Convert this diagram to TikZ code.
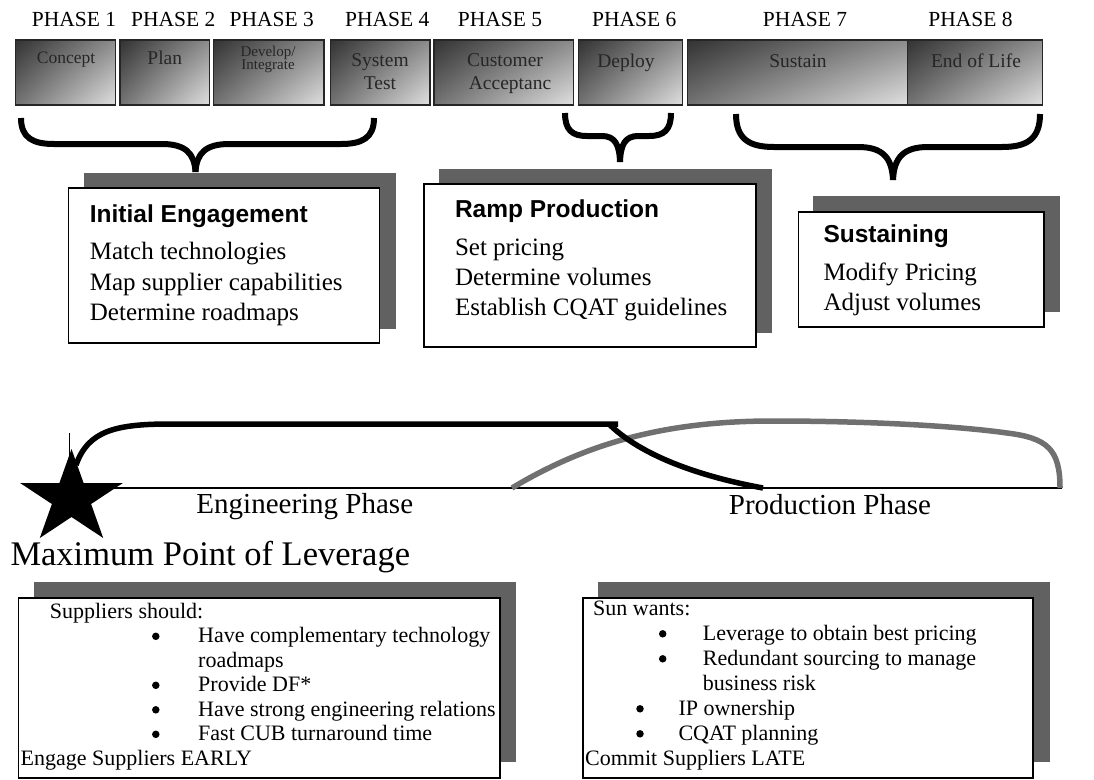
\documentclass[tikz,border=0pt]{standalone}
\usepackage{fontspec}
\setmainfont{Liberation Serif}
\newfontfamily\headfont{Liberation Sans}
\usetikzlibrary{shadings}

\tikzset{
  phasebox/.style={draw=black!85, line width=1.5pt, inner sep=0pt, minimum height=65pt,
    upper left=black!80, upper right=black!45, lower left=black!55, lower right=black!12},
  phasehead/.style={anchor=base, inner sep=0pt, font=\fontsize{21.5}{21.5}\selectfont},
  phasetext/.style={anchor=base, inner sep=0pt, text=black!85, font=\fontsize{19.5}{19.5}\selectfont},
  shadowbox/.style={fill=black!62, inner sep=0pt},
  panelbox/.style={fill=white, draw=black, line width=1.3pt, inner sep=0pt},
  paneltitle/.style={anchor=base west, inner sep=0pt, font=\headfont\bfseries\fontsize{24.5}{24.5}\selectfont},
  panelline/.style={anchor=base west, inner sep=0pt, font=\fontsize{25}{25}\selectfont},
  listline/.style={anchor=base west, inner sep=0pt, font=\fontsize{22}{22}\selectfont},
  bulletdot/.style={circle, fill=black, inner sep=0pt, minimum size=7.5pt, yshift=6.5pt},
  phasename/.style={anchor=base, inner sep=0pt, font=\fontsize{29}{29}\selectfont},
  bracestroke/.style={line width=6pt, line cap=butt, line join=round},
  engcurve/.style={line width=5.5pt, black, line cap=butt},
  prodcurve/.style={line width=5.5pt, black!56, line cap=butt},
}

\begin{document}
\begin{tikzpicture}[x=1pt,y=-1pt]
\useasboundingbox (0,0) rectangle (1094,779);

% ---- phase headings
\node[phasehead] (h1) at (74,26)    {PHASE 1};
\node[phasehead] (h2) at (173.3,26) {PHASE 2};
\node[phasehead] (h3) at (271.7,26) {PHASE 3};
\node[phasehead] (h4) at (387.3,26) {PHASE 4};
\node[phasehead] (h5) at (500,26)   {PHASE 5};
\node[phasehead] (h6) at (634.2,26) {PHASE 6};
\node[phasehead] (h7) at (805,26)   {PHASE 7};
\node[phasehead] (h8) at (970.5,26) {PHASE 8};

% ---- phase boxes
\node[phasebox, minimum width=100pt]   (p1) at (65.4,72.5) {};
\node[phasebox, minimum width=89.7pt]  (p2) at (164.75,72.5) {};
\node[phasebox, minimum width=110.3pt] (p3) at (268.85,72.5) {};
\node[phasebox, minimum width=99.3pt]  (p4) at (380.15,72.5) {};
\node[phasebox, minimum width=139.1pt] (p5) at (503.75,72.5) {};
\node[phasebox, minimum width=104.4pt] (p6) at (630.5,72.5) {};
\node[phasebox, minimum width=220pt]   (p7) at (797.7,72.5) {};
\node[phasebox, minimum width=134.6pt] (p8) at (975,72.5) {};

\node[phasetext, font=\fontsize{17.5}{17.5}\selectfont] (t1) at (66,63) {Concept};
\node[phasetext] (t2) at (164.75,64) {Plan};
\node[anchor=center, inner sep=0pt, align=center, text=black!85,
      font=\fontsize{15}{13.5}\selectfont] (t3) at (268,59.5) {Develop/\\Integrate};
\node[phasetext] (t4a) at (380,66) {System};
\node[phasetext] (t4b) at (380,89) {Test};
\node[phasetext] (t5a) at (505,66) {Customer};
\node[phasetext] (t5b) at (510,89) {Acceptanc};
\node[phasetext] (t6) at (626,67) {Deploy};
\node[phasetext] (t7) at (798,67) {Sustain};
\node[phasetext] (t8) at (976,67) {End of Life};

% ---- braces grouping the phases
\draw[bracestroke] (21,118) .. controls (21,138) and (33,144) .. (54,144) -- (162,144)
  .. controls (185,144) and (194.5,153) .. (195.5,172);
\draw[bracestroke] (374,118) .. controls (374,138) and (362,144) .. (341,144) -- (229,144)
  .. controls (206,144) and (196.5,153) .. (195.5,172);

\draw[bracestroke] (565,113) .. controls (565,130) and (572,136) .. (587,136) -- (602,136)
  .. controls (615,136) and (619.5,145) .. (620,162);
\draw[bracestroke] (671,113) .. controls (671,130) and (664,136) .. (649,136) -- (638,136)
  .. controls (625,136) and (620.5,145) .. (620,162);

\draw[bracestroke] (736,114) .. controls (736,139) and (749,147) .. (774,147) -- (858,147)
  .. controls (883,147) and (892,158) .. (893,180);
\draw[bracestroke] (1040,114) .. controls (1040,139) and (1027,147) .. (1002,147) -- (928,147)
  .. controls (903,147) and (894,158) .. (893,180);

% ---- Initial Engagement panel
\node[shadowbox, minimum width=311.6pt, minimum height=156pt] (ieS) at (239.7,251) {};
\node[panelbox, minimum width=311pt, minimum height=155pt] (ie) at (224,265.5) {};
\node[paneltitle] (ieT) at (89.7,222) {Initial Engagement};
\node[panelline] (ie1) at (89.7,259.5) {Match technologies};
\node[panelline] (ie2) at (89.7,290.5) {Map supplier capabilities};
\node[panelline] (ie3) at (89.7,320.5) {Determine roadmaps};

% ---- Ramp Production panel
\node[shadowbox, minimum width=332.6pt, minimum height=164pt] (rpS) at (605.7,251) {};
\node[panelbox, minimum width=332pt, minimum height=163pt] (rp) at (590,265.5) {};
\node[paneltitle] (rpT) at (454.8,217) {Ramp Production};
\node[panelline] (rp1) at (454.8,255.5) {Set pricing};
\node[panelline] (rp2) at (454.8,285.5) {Determine volumes};
\node[panelline] (rp3) at (454.8,315.5) {Establish CQAT guidelines};

% ---- Sustaining panel
\node[shadowbox, minimum width=246.7pt, minimum height=116pt] (suS) at (936.7,254) {};
\node[panelbox, minimum width=245.7pt, minimum height=115pt] (su) at (921.2,269.5) {};
\node[paneltitle] (suT) at (823.3,242) {Sustaining};
\node[panelline] (su1) at (823.3,280.5) {Modify Pricing};
\node[panelline] (su2) at (823.3,310.5) {Adjust volumes};

% ---- life-cycle axis and phase curves
\coordinate (axisL) at (100,488);
\coordinate (axisR) at (1062,488);
\draw[line width=1.3pt] (axisL) -- (axisR);
\draw[line width=1.4pt] (69.5,433) -- (69.5,470);

\draw[prodcurve] (512,488) .. controls (590,441) and (670,421) .. (773,421)
  .. controls (880,421) and (965,427) .. (1007,433)
  .. controls (1048,438) and (1060,450) .. (1060,488);

\draw[engcurve] (76,465) .. controls (88,431) and (115,424) .. (170,424) -- (618,424);
\draw[engcurve] (610,425) .. controls (637,451) and (687,474) .. (763,488);

% star marking the point of leverage
\fill[black] (71.5,449) -- (83.6,483) -- (122.9,483) -- (91.1,504) -- (103.2,538)
  -- (71.5,517) -- (39.8,538) -- (51.9,504) -- (20.1,483) -- (59.4,483) -- cycle;

\node[phasename] (eng) at (304.8,513) {Engineering Phase};
\node[phasename] (prod) at (830,514) {Production Phase};
\node[anchor=base west, inner sep=0pt, font=\fontsize{34.5}{34.5}\selectfont] (lev) at (10.3,565) {Maximum Point of Leverage};

% ---- supplier engagement panel
\node[shadowbox, minimum width=481.8pt, minimum height=180pt] (spS) at (275.1,672) {};
\node[panelbox, minimum width=481.2pt, minimum height=180pt] (sp) at (259.4,688) {};
\node[listline] (sp0) at (49.7,618.3) {Suppliers should:};
\node[bulletdot] (spb1) at (155.8,642.8) {};
\node[listline] (sp1) at (198,642.8) {Have complementary technology};
\node[listline] (sp1b) at (198,667.3) {roadmaps};
\node[bulletdot] (spb2) at (155.8,691.8) {};
\node[listline] (sp2) at (198,691.8) {Provide DF*};
\node[bulletdot] (spb3) at (155.8,716.3) {};
\node[listline] (sp3) at (198,716.3) {Have strong engineering relations};
\node[bulletdot] (spb4) at (155.8,740.8) {};
\node[listline] (sp4) at (198,740.8) {Fast CUB turnaround time};
\node[listline] (sp5) at (20.5,765.3) {Engage Suppliers EARLY};

% ---- Sun requirements panel
\node[shadowbox, minimum width=452pt, minimum height=180pt] (snS) at (824,672) {};
\node[panelbox, minimum width=450pt, minimum height=180pt] (sn) at (808,688) {};
\node[listline] (sn0) at (593,615.3) {Sun wants:};
\node[bulletdot] (snb1) at (662.7,640.3) {};
\node[listline] (sn1) at (702.7,640.3) {Leverage to obtain best pricing};
\node[bulletdot] (snb2) at (662.7,665.3) {};
\node[listline] (sn2) at (702.7,665.3) {Redundant sourcing to manage};
\node[listline] (sn2b) at (702.7,690.3) {business risk};
\node[bulletdot] (snb3) at (640,715.3) {};
\node[listline] (sn3) at (678.3,715.3) {IP ownership};
\node[bulletdot] (snb4) at (640,740.3) {};
\node[listline] (sn4) at (678.3,740.3) {CQAT planning};
\node[listline] (sn5) at (585,765.3) {Commit Suppliers LATE};
\end{tikzpicture}
\end{document}
